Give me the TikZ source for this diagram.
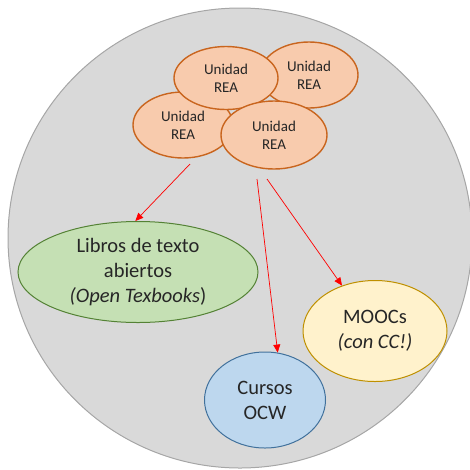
\documentclass[tikz,border=0pt]{standalone}
\usepackage{fontspec}
\setmainfont{Carlito}
\usetikzlibrary{shapes.geometric,arrows.meta}
\definecolor{bgfill}{HTML}{D9D9D9}
\definecolor{bgline}{HTML}{A6A6A6}
\definecolor{orfill}{HTML}{F8CBAD}
\definecolor{orline}{HTML}{C9651E}
\definecolor{grfill}{HTML}{C5E0B4}
\definecolor{grline}{HTML}{548235}
\definecolor{yefill}{HTML}{FFF2CC}
\definecolor{yeline}{HTML}{BF9000}
\definecolor{blfill}{HTML}{BDD7EE}
\definecolor{blline}{HTML}{41719C}
\definecolor{txt}{HTML}{262626}
\begin{document}
\begin{tikzpicture}[x=1pt,y=-1pt,
  unit/.style={ellipse,draw=orline,fill=orfill,line width=1.4pt,inner sep=0pt,
    align=center,text=txt,font=\fontsize{15}{18}\selectfont,
    minimum width=100pt,minimum height=66pt},
  big/.style={ellipse,line width=1pt,inner sep=0pt,align=center,text=txt,
    font=\fontsize{20.5}{25}\selectfont},
  arr/.style={draw=red,line width=0.7pt,-{Triangle[length=8pt,width=7pt]}}]
\useasboundingbox (0,0) rectangle (470,469);
% background ellipse
\node[ellipse,fill=bgfill,draw=bgline,line width=1pt,minimum width=464pt,minimum height=460pt,inner sep=0pt] (bg) at (240,238) {};
% unit clusters
\node[unit,minimum width=98pt] (u2) at (309,75) {Unidad\\REA};
\node[unit] (u3) at (183,125) {Unidad\\REA};
\node[unit,minimum width=104pt,minimum height=63pt] (u1) at (226,78) {Unidad\\REA};
\node[unit,minimum width=106pt,minimum height=68pt] (u4) at (274,135) {Unidad\\REA};
% outputs
\node[big,fill=grfill,draw=grline,minimum width=240pt,minimum height=101pt] (green) at (138,272)
  {Libros de texto\\abiertos\\\textit{(Open Texbooks})};
\node[big,fill=yefill,draw=yeline,minimum width=144pt,minimum height=101pt] (yellow) at (375,331)
  {MOOCs\\\textit{(con CC!)}};
\node[big,fill=blfill,draw=blline,minimum width=121pt,minimum height=96pt] (blue) at (265,400)
  {Cursos\\OCW};
% arrows
\coordinate (s1) at (190,164);
\coordinate (s2) at (257,179);
\coordinate (s3) at (267,179);
\draw[arr] (s1) -- (green.93);
\draw[arr] (s2) -- (blue.75);
\draw[arr] (s3) -- (yellow.126);
\end{tikzpicture}
\end{document}
